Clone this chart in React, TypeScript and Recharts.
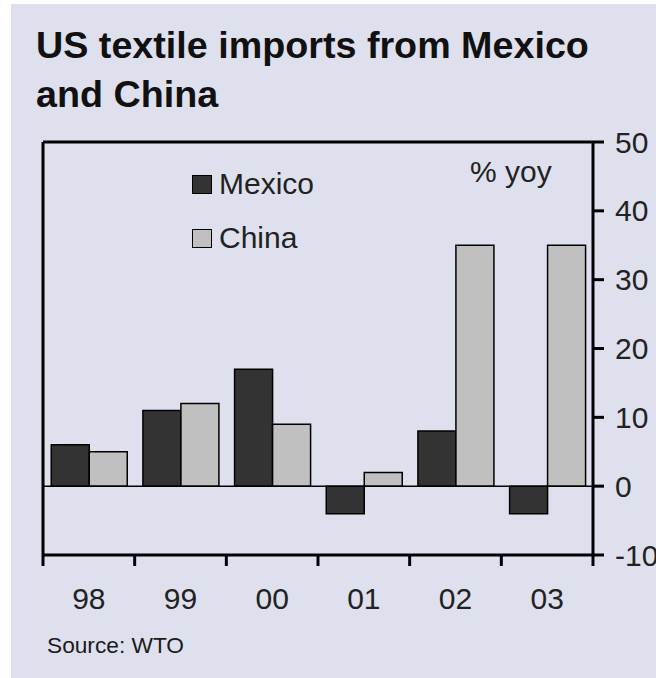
import React from 'react';
import { BarChart, Bar, XAxis, YAxis, ReferenceLine, Legend } from 'recharts';

const categories = ['98', '99', '00', '01', '02', '03'];
const mexicoValues = [6, 11, 17, -4, 8, -4];
const chinaValues = [5, 12, 9, 2, 35, 35];
const yTicks = [-10, 0, 10, 20, 30, 40, 50];
const seriesNames = ['Mexico', 'China'];

const data = categories.map((year, i) => ({
  year,
  Mexico: mexicoValues[i],
  China: chinaValues[i],
}));

const FONT = '"Liberation Sans", Arial, Helvetica, sans-serif';
const BG = '#dfe0ee';

const XTick = (props: any) => {
  const { x, y, payload, index, visibleTicksCount } = props;
  const half = payload && typeof payload.offset === 'number' ? payload.offset : 45.83;
  const last = index === (visibleTicksCount ?? categories.length) - 1;
  return (
    <g>
      <line x1={x - half} x2={x - half} y1={y} y2={y + 11} stroke="#000" strokeWidth={3} />
      {last && <line x1={x + half} x2={x + half} y1={y} y2={y + 11} stroke="#000" strokeWidth={3} />}
      <text x={x} y={y + 54} textAnchor="middle" fontSize={30} fontFamily={FONT} fill="#222">
        {payload.value}
      </text>
    </g>
  );
};

const YTick = (props: any) => {
  const { x, y, payload } = props;
  return (
    <text x={x} y={y + 10.5} textAnchor="start" fontSize={30} fontFamily={FONT} fill="#222">
      {payload.value}
    </text>
  );
};

const LegendContent = (props: any) => {
  const payload = [...(props.payload || [])].sort(
    (a: any, b: any) => seriesNames.indexOf(a.value) - seriesNames.indexOf(b.value)
  );
  return (
    <div style={{ fontFamily: FONT, fontSize: 30, color: '#222' }}>
      {payload.map((p: any) => (
        <div key={p.value} style={{ display: 'flex', alignItems: 'center', height: 54 }}>
          <span
            style={{
              display: 'inline-block',
              width: 18,
              height: 17,
              background: p.color,
              border: '1.5px solid #000',
              marginRight: 7,
            }}
          />
          <span>{p.value}</span>
        </div>
      ))}
    </div>
  );
};

export default function App() {
  return (
    <div
      style={{
        position: 'absolute',
        left: 0,
        top: 0,
        width: 656,
        height: 678,
        background: '#fff',
        overflow: 'hidden',
      }}
    >
      <div
        style={{
          position: 'absolute',
          left: 11,
          top: 4,
          width: 645,
          height: 674,
          background: BG,
        }}
      />
      <div
        style={{
          position: 'absolute',
          left: 36,
          top: 21,
          fontFamily: FONT,
          fontWeight: 'bold',
          fontSize: 37.7,
          lineHeight: '49px',
          color: '#111',
          whiteSpace: 'nowrap',
        }}
      >
        US textile imports from Mexico
        <br />
        and China
      </div>
      <div
        style={{
          position: 'absolute',
          left: 470,
          top: 155,
          fontFamily: FONT,
          fontSize: 30,
          lineHeight: '34px',
          color: '#222',
          whiteSpace: 'nowrap',
        }}
      >
        % yoy
      </div>
      <div
        style={{
          position: 'absolute',
          left: 47,
          top: 632,
          fontFamily: FONT,
          fontSize: 22.7,
          lineHeight: '26px',
          color: '#1a1a1a',
          whiteSpace: 'nowrap',
        }}
      >
        Source: WTO
      </div>
      <div style={{ position: 'absolute', left: 0, top: 0 }}>
        <BarChart
          width={656}
          height={678}
          data={data}
          margin={{ top: 141, right: 3, bottom: 63, left: 42 }}
          barCategoryGap="9%"
          barGap={0}
        >
          <XAxis
            dataKey="year"
            xAxisId={0}
            orientation="bottom"
            height={60}
            axisLine={{ stroke: '#000', strokeWidth: 3 }}
            tickLine={false}
            tickSize={0}
            tickMargin={0}
            tick={<XTick />}
            interval={0}
          />
          <XAxis
            dataKey="year"
            xAxisId="top"
            orientation="top"
            height={1}
            axisLine={{ stroke: '#000', strokeWidth: 3 }}
            tick={false}
            tickLine={false}
          />
          <YAxis
            yAxisId={0}
            orientation="right"
            width={60}
            domain={[-10, 50]}
            ticks={yTicks}
            interval={0}
            axisLine={{ stroke: '#000', strokeWidth: 3 }}
            tickLine={{ stroke: '#000', strokeWidth: 3 }}
            tickSize={11}
            tickMargin={11}
            tick={<YTick />}
          />
          <YAxis
            yAxisId="left"
            orientation="left"
            width={1}
            domain={[-10, 50]}
            axisLine={{ stroke: '#000', strokeWidth: 3 }}
            tick={false}
            tickLine={false}
          />
          <Legend
            layout="vertical"
            align="center"
            verticalAlign="middle"
            content={<LegendContent />}
            wrapperStyle={{ position: 'absolute', left: 192, top: 157, width: 'auto' }}
          />
          <Bar dataKey="Mexico" name="Mexico" fill="#333333" stroke="#000" strokeWidth={1.5} isAnimationActive={false} />
          <Bar dataKey="China" name="China" fill="#c0c0c0" stroke="#000" strokeWidth={1.5} isAnimationActive={false} />
          <ReferenceLine y={0} stroke="#000" strokeWidth={1.5} />
        </BarChart>
      </div>
    </div>
  );
}
